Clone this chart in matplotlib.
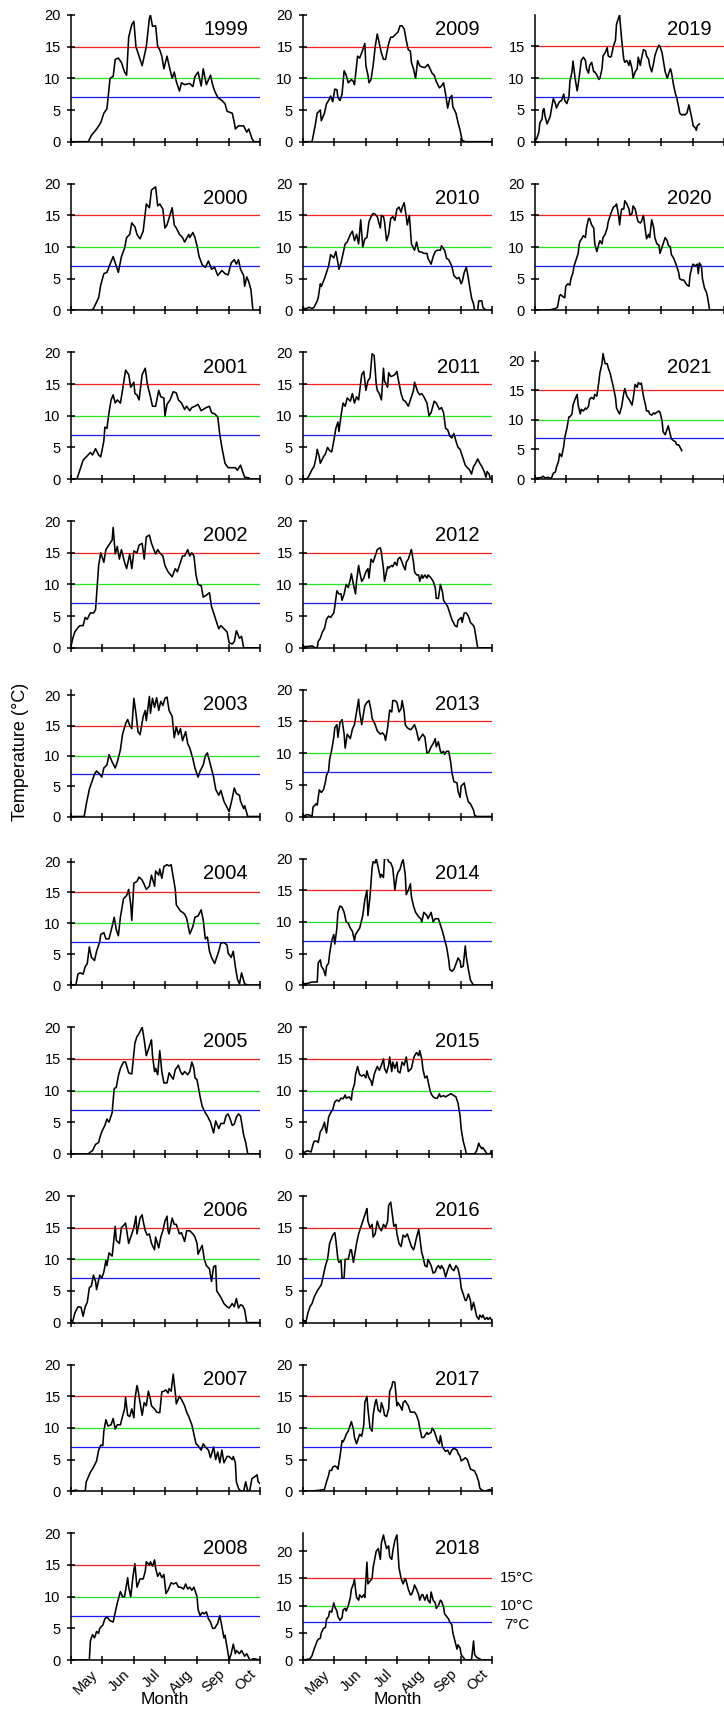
import numpy as np
import matplotlib
matplotlib.use("Agg")
import matplotlib.pyplot as plt
from matplotlib.transforms import ScaledTranslation

plt.rcParams['font.family'] = ['Liberation Sans', 'DejaVu Sans']

# Daily water temperature (day since 1 April, degrees C).
y1999 = [(0,0),(17,0),(20,1),(25,2),(29,3),(32,4.5),(35,5.2),(38,10),(41,10.3),(43,13),(46,13.2),(49,12.5),(52,11),(54,10.5),(56,16.5),(59,18.5),(61,19),(63,15),(65,14),(69,12),(71,13.5),(73,15),(76,19.5),(77,20),(79,18.2),(82,18.3),(84,15),(86,14.5),(88,13.5),(90,11.5),(93,13.5),(95,12),(98,10),(100,11),(102,9.5),(105,8),(107,9.3),(110,9),(115,9.2),(118,8.7),(120,10.3),(123,11),(126,8.8),(128,11.5),(131,9),(135,10.5),(137,9),(139,8),(142,7),(146,6.5),(149,6),(151,4.8),(156,4.5),(158,3),(159,2),(162,2.5),(167,2.5),(170,1.5),(172,2),(175,0.5),(177,0),(183,0)]
y2000 = [(0,0),(20,0),(22,0.3),(27,2),(29,4),(32,5.8),(35,6),(38,7.3),(41,8.5),(44,7),(46,6),(49,8.5),(52,9.8),(54,11.5),(57,12),(59,13.8),(62,13.2),(64,12),(67,11.3),(70,12.5),(73,16.8),(76,16.2),(78,19),(82,19.5),(84,16.5),(86,16.8),(89,16),(91,13),(93,13.5),(98,16.2),(100,13.5),(102,13),(105,12),(108,11.5),(110,10.8),(114,12),(115,11.5),(118,12.3),(120,11.5),(122,10.2),(124,8.5),(127,7.2),(130,6.8),(133,7.8),(136,6.5),(139,6.8),(142,5.5),(146,6.3),(149,5.8),(152,5.6),(155,7.5),(158,8),(160,7.3),(162,8),(164,6.5),(167,5.5),(168,3.8),(170,5.3),(172,4.5),(174,3.3),(176,0),(183,0)]
y2001 = [(0,0),(6,0),(9,1.5),(12,3),(15,3.5),(19,4.2),(21,3.8),(24,4.8),(27,3.8),(29,3.5),(32,6),(33,8.2),(35,8),(37,10.5),(39,12.5),(41,13.3),(43,12),(45,12.5),(48,12),(50,14),(53,17.2),(56,16.5),(58,14.5),(61,15.3),(62,13.5),(64,13.3),(66,12.5),(69,16.5),(72,17.5),(74,15),(77,13),(79,11.5),(82,11.5),(85,14),(87,13),(90,12.8),(91,10),(93,11.8),(96,12.5),(99,13.8),(102,13.6),(104,12.5),(107,12),(110,11),(112,11.5),(115,10.8),(117,11.3),(120,11.5),(123,11.8),(126,10.8),(128,11),(131,11.3),(134,11.5),(136,10.5),(139,10.3),(142,9.8),(144,7),(146,5),(149,2.5),(152,1.8),(156,1.8),(159,1.8),(161,1.4),(164,2.2),(166,1.2),(168,0.3),(172,0.2),(173,0),(183,0)]
y2002 = [(0,0),(2,1.5),(4,2.5),(7,3.2),(9,3.5),(12,3.5),(14,4.8),(16,4.5),(19,5.5),(22,5.5),(24,6),(27,13),(29,15),(32,13.5),(34,15.5),(36,16),(40,17),(41,19),(43,14.8),(45,16),(47,14),(49,15.5),(52,13.5),(54,12.5),(57,14.8),(59,12.5),(61,15.3),(64,15),(66,16.2),(69,16.5),(71,14),(73,17.5),(76,17.8),(78,16.5),(82,14.8),(84,15.5),(86,15),(89,14.5),(91,13),(94,12),(98,11.2),(101,12.5),(103,12),(106,13.5),(108,14.5),(110,14.5),(113,15.5),(115,14.5),(117,15),(119,14.5),(121,11.5),(123,10),(126,9.8),(128,8),(131,8.3),(134,8.7),(136,6.5),(139,5),(143,3),(145,3.5),(148,3),(151,2.5),(153,0.8),(156,0.6),(158,1),(160,2.7),(163,1.5),(165,1.8),(167,0),(183,0)]
y2003 = [(0,0),(13,0),(15,2),(18,4.5),(20,5.5),(23,7),(25,7.5),(28,7),(30,6.5),(32,8),(35,8.5),(37,10.2),(40,9),(43,8),(45,9),(48,11),(50,13.5),(53,15.3),(55,16),(57,15),(59,14.5),(61,19.5),(63,17),(65,14),(67,13.5),(70,16.5),(72,17.5),(73,15.8),(76,19.8),(77,17),(79,19.5),(81,18),(83,19.6),(85,17.5),(87,19),(89,18.3),(91,19.5),(93,19.7),(95,17.5),(98,16.5),(100,13),(102,14.8),(104,13.5),(106,14.5),(108,12.5),(111,14),(113,12),(115,11.3),(118,9.5),(120,8),(123,6.5),(125,7.5),(128,8.5),(130,10),(132,10.5),(135,8.5),(138,6.5),(140,4.5),(143,3.5),(145,4.3),(148,2.5),(151,1.5),(153,0.8),(156,3),(158,4.7),(160,3.8),(163,3.5),(164,2.5),(167,1.3),(168,1.8),(171,0),(183,0)]
y2004 = [(0,0),(5,0),(7,1.8),(9,2),(12,1.8),(14,3),(16,3.5),(18,6.2),(20,4.5),(23,4),(25,5.5),(28,7),(29,8.2),(32,8.5),(34,7.5),(37,7.5),(40,9.5),(42,11),(44,9),(46,8),(48,11),(51,14),(54,14.5),(56,15.5),(58,13),(59,10.5),(61,16.5),(64,16.8),(66,17.5),(69,17),(71,16.3),(73,15.5),(76,16),(78,17.8),(81,16),(82,18.5),(85,17.8),(86,18.8),(88,17.3),(90,19.2),(93,19.5),(95,19.3),(97,19.5),(99,17.5),(101,15.5),(102,13),(106,12),(108,11.8),(110,11.5),(112,10.8),(115,8.3),(118,9.5),(120,11),(123,11.2),(126,12.2),(128,10.5),(130,7.5),(132,7.8),(134,5.5),(136,4.5),(139,3.5),(143,5.5),(145,6.8),(148,6.9),(151,6.5),(152,5.2),(155,4.5),(157,5.5),(159,3),(161,1),(163,0.2),(165,2),(168,0.2),(172,0),(183,0)]
y2005 = [(0,0),(17,0),(19,0.3),(21,0.5),(24,1.5),(27,1.8),(28,2.5),(30,3.5),(33,4.5),(35,5.5),(37,5),(40,6.5),(42,10.3),(44,10.5),(46,12.3),(48,13.5),(51,14.5),(53,14.5),(56,12.8),(59,12.6),(62,17.5),(64,18.5),(66,19),(69,20),(71,18),(73,15.5),(75,16.5),(77,17.5),(78,18),(79,15.5),(81,13),(82,13.5),(84,12.5),(86,16.3),(88,13),(90,11.2),(93,11.2),(95,12.8),(98,12),(99,11.8),(101,13.3),(104,14),(106,13),(108,12.5),(110,13),(113,12.5),(115,13),(117,14.5),(119,13.5),(120,12),(122,11.7),(125,9),(127,7.5),(130,6.5),(132,6),(135,5),(138,3.3),(140,5.2),(143,4),(145,4.8),(148,4.8),(150,6),(152,6.3),(154,5.5),(156,4.5),(158,4.7),(160,5.8),(162,6.3),(164,6),(167,3),(169,1.8),(171,0),(183,0)]
y2006 = [(0,0),(2,0.2),(4,1.5),(7,2.5),(10,2.4),(12,1),(14,2.5),(16,3.2),(18,5.5),(20,5.8),(22,7.5),(24,6.5),(25,5.2),(28,7.5),(30,7),(32,8),(34,9.8),(35,9),(37,11),(40,10.5),(41,12),(43,15.2),(44,13),(47,12.5),(49,15),(52,15.5),(53,15.7),(56,12.5),(58,13.5),(61,15),(63,16.8),(64,14),(67,16.5),(69,17),(70,16),(72,14.5),(74,13.8),(76,14),(78,12.5),(81,11.5),(82,13.5),(85,11.8),(87,13.5),(89,14.5),(91,16),(93,16.8),(94,14.5),(95,14),(98,16.5),(100,15.5),(102,15.5),(105,14),(107,14.2),(110,12.8),(112,14.5),(115,14.5),(118,14),(120,13.5),(122,12.5),(123,10.8),(125,11.5),(127,12.2),(129,10),(131,9),(134,8.5),(136,6.5),(138,8.8),(140,9),(141,5),(143,4.5),(145,4),(148,3),(151,2.5),(153,2.3),(156,3),(158,2.5),(160,3.8),(162,2.3),(164,2.8),(166,2.7),(168,2),(170,0),(183,0)]
y2007 = [(0,0),(5,0.2),(8,0),(14,0),(15,1.5),(19,3),(22,3.8),(25,4.8),(27,6.5),(29,7.3),(31,7.2),(32,9.5),(34,11.3),(36,10.3),(39,10.5),(41,11.5),(43,9.8),(45,10.5),(48,10.5),(50,11.8),(52,13),(53,14.8),(55,12),(57,11.8),(59,13),(61,11.6),(62,14.5),(64,16.7),(65,16),(67,14),(69,12),(71,14),(73,13.5),(75,15.8),(77,14.5),(78,13.5),(81,13),(83,12.5),(86,12.4),(88,15.7),(90,15.8),(92,16),(94,15.5),(95,16.2),(97,15.8),(99,18.5),(101,15.5),(102,13.8),(105,15),(107,14.5),(110,13.5),(112,12.5),(114,11.8),(117,10.5),(119,9),(121,7.5),(123,7.2),(126,6.5),(128,7.5),(130,7),(133,6.5),(135,5.3),(138,7),(140,5),(142,6.2),(144,4.5),(146,6.5),(148,4.5),(151,5.5),(153,5.5),(156,5),(157,5.5),(159,4.5),(160,1.5),(162,0.5),(164,0),(167,0),(169,1.5),(171,0),(173,0.2),(175,2),(177,2.2),(180,2.6),(181,1.5),(183,1.2)]
y2008 = [(0,0),(18,0),(19,3),(21,4),(23,3.5),(25,4.5),(27,4.2),(28,5),(31,5.5),(33,6.5),(35,6.8),(38,6.2),(41,6),(43,7.5),(45,9),(48,10.8),(50,10),(52,10),(55,13),(56,11.5),(58,10),(60,13),(62,15.2),(64,11.5),(67,12.8),(70,12.8),(72,14),(73,15.5),(76,15),(77,15.5),(79,14.8),(81,15.8),(82,14.5),(84,13.2),(86,13.8),(88,13),(90,13.5),(92,10.5),(94,11),(97,12.2),(99,12),(102,12.2),(104,11.5),(106,11.5),(109,11.2),(111,12),(113,11.2),(115,11.5),(117,11),(119,11.5),(122,10),(123,8),(125,7),(127,7.5),(129,7.3),(131,7.6),(133,6.5),(135,6),(137,5),(139,5),(142,5.8),(144,7),(146,5.3),(148,3.5),(149,3.9),(151,2),(153,0),(155,1),(157,2.5),(159,1),(160,1.5),(163,1),(165,1.5),(168,0.6),(170,1),(173,0),(177,0.2),(183,0)]
y2009 = [(0,0),(9,0),(12,2.5),(14,4.5),(17,5),(18,3.3),(21,4.5),(23,6),(25,6.5),(27,7.2),(29,6.3),(31,8.3),(33,8.2),(34,7),(36,6.5),(38,7.5),(40,11.2),(42,10.5),(44,9.3),(47,9.8),(49,9.5),(50,9),(53,13.5),(55,13.2),(58,14.5),(60,15.5),(61,12),(63,10.5),(64,9.3),(66,9.8),(68,12),(70,15),(72,17),(74,15.5),(76,14),(78,13),(80,13),(83,15.5),(85,16.5),(87,16.5),(90,17),(92,17.3),(94,18.3),(96,18.3),(98,17.8),(100,16),(102,14.5),(104,14.3),(105,12.5),(107,11.5),(109,10),(111,12.8),(113,12),(115,11.8),(118,11.7),(121,12.2),(123,11.5),(125,10.8),(127,10.5),(129,9.5),(132,8.5),(134,8.8),(136,9.3),(138,7.5),(140,5.3),(142,6.8),(144,7.3),(145,5.5),(148,4.5),(150,3),(152,1.8),(154,0.2),(157,0),(183,0)]
y2010 = [(0,0.3),(4,0.3),(6,0.5),(9,0.3),(11,0.5),(14,1.5),(15,2),(17,4.2),(18,3.8),(21,5),(23,6),(25,7),(27,8.8),(30,8.3),(32,9.3),(34,7.5),(35,6.5),(37,7.5),(39,9),(41,10.5),(43,10.8),(46,12),(48,12.5),(50,11),(52,12),(54,10.5),(56,14.3),(58,10),(60,11.3),(62,11.5),(64,14),(66,14.8),(68,15.3),(70,15.2),(72,14.8),(75,13),(76,15),(78,14.8),(79,14),(81,11),(83,12),(85,14.5),(87,14.8),(89,14.2),(91,16),(93,16.3),(95,15.5),(96,16.2),(98,17),(100,14.8),(101,13.5),(103,15),(105,10.5),(108,9.5),(110,10.8),(112,9.3),(115,9.2),(117,9),(120,9),(121,8.2),(124,7.3),(126,8.5),(128,9.3),(130,9.5),(133,9.5),(134,10.2),(137,9.5),(139,8.2),(141,8),(144,7),(146,5.5),(149,5),(151,5.2),(153,4.2),(154,4.5),(156,6),(158,6.8),(159,6),(161,4),(163,2),(165,1),(166,0),(169,0),(170,1.5),(173,1.5),(174,0.5),(177,0),(183,0)]
y2011 = [(0,0),(4,0),(6,0.5),(9,1.5),(11,2),(13,3.5),(14,4.7),(16,3.5),(17,2.5),(20,3.5),(22,4),(24,5),(26,4.5),(28,4.3),(30,6),(32,8),(34,9),(35,7.5),(37,10),(39,12),(41,11.5),(43,12.8),(46,12.3),(48,13.5),(50,12),(52,13),(54,12.5),(57,16.5),(59,17),(61,14),(63,15.5),(65,16),(67,19.8),(69,19.5),(71,15),(72,14),(74,13.5),(76,12.5),(78,17.5),(79,15.5),(82,14.5),(83,16.8),(85,16.2),(87,16.3),(89,16.5),(91,17),(92,16),(95,13.5),(97,12.5),(99,12.3),(102,11.5),(104,12.5),(107,14),(108,15.3),(111,13.8),(113,13.3),(115,13.5),(117,13),(120,12),(122,10),(124,10.5),(127,12.3),(129,12),(132,11),(134,11.3),(136,10.5),(138,8),(140,7.8),(142,6.8),(144,6.5),(146,7.2),(148,6),(150,5),(152,4.7),(155,3.2),(157,2.2),(159,1.8),(161,1.5),(163,0.8),(165,2),(167,2.5),(169,3.2),(171,2.5),(173,2),(175,1.3),(177,0.3),(178,1.2),(180,0.8),(181,0.2),(183,0)]
y2012 = [(0,0.2),(5,0.2),(9,0.3),(12,0),(14,0),(15,1),(17,1.5),(19,2.5),(21,3),(23,4.5),(25,5),(27,4.8),(30,5.5),(31,6.5),(33,9),(35,8.5),(37,8.5),(38,7.5),(40,8.5),(42,10),(44,9.5),(46,10.8),(47,11.7),(49,10),(51,8.5),(52,10.5),(54,13),(55,12),(57,10.5),(59,11),(61,12),(63,12.5),(64,11),(66,14),(68,13.5),(70,14.5),(72,15.5),(75,15.8),(76,15),(78,12.5),(79,10.5),(82,12.8),(83,12.6),(86,13),(87,12.8),(89,13.5),(91,13),(92,14),(94,14.3),(96,13.5),(97,13),(99,12.3),(100,13.5),(102,14),(104,15),(105,15.5),(107,13.5),(108,12),(110,11.5),(112,11.5),(113,10.5),(115,11.5),(116,11),(118,11.5),(120,11),(121,11.5),(123,11.2),(124,11),(126,10.5),(128,9.5),(129,7.8),(131,7.8),(133,10),(135,8.8),(136,7.5),(138,7),(140,6.5),(142,5.5),(144,4.5),(147,3.5),(149,3.3),(150,4.3),(153,4.8),(154,4),(156,5.5),(158,5.5),(160,5),(162,4),(165,3.5),(166,3),(168,1),(169,0),(183,0)]
y2013 = [(0,0),(4,0.3),(7,0.2),(9,0),(10,1.5),(13,2),(14,1.8),(16,4.2),(18,3.8),(20,4.2),(22,5.5),(23,6.5),(25,7.2),(26,9),(28,10.5),(30,12.5),(31,14),(33,14.5),(34,12.5),(36,14.8),(38,15.3),(40,13),(41,10.8),(43,13),(46,12.3),(48,13.8),(50,14.5),(52,16.5),(54,18.5),(55,16.5),(57,14.5),(59,16.5),(60,17.5),(62,18),(64,18.3),(66,16.8),(67,15.5),(70,14.5),(72,13.5),(75,13),(77,13.2),(79,12.8),(80,12),(82,14),(84,16.8),(86,16.5),(87,18.3),(89,18.3),(91,18),(93,16.5),(95,17),(96,18.3),(98,16.5),(99,14.5),(101,14),(104,13.7),(105,13.8),(108,14.5),(110,13.5),(112,12),(114,12.5),(116,13),(118,12.5),(120,10),(122,10.2),(124,11),(126,11.5),(128,12.3),(129,11),(131,11.8),(133,10.3),(134,10),(136,10.3),(137,9.8),(139,10.3),(141,10.3),(143,8.5),(144,7),(146,5.5),(149,5.3),(150,4),(152,3),(153,4.8),(156,5.3),(158,3.5),(160,2.3),(162,2),(165,1),(166,0.2),(168,0),(183,0)]
y2014 = [(0,0.2),(5,0.3),(9,0.5),(14,0.5),(15,3.5),(17,4),(18,3),(20,2.5),(22,1.5),(23,3),(25,3.5),(26,5),(28,7),(30,8),(31,6.5),(33,9),(34,11.5),(36,12.5),(38,12.3),(40,11.5),(42,10),(44,9.8),(46,9),(48,8.5),(50,7),(51,8),(53,8.5),(55,9),(58,11),(60,13.5),(62,15),(63,11),(65,14),(67,18.5),(68,19.5),(70,19.3),(71,20),(73,18.5),(75,17),(76,17.5),(78,17),(79,20),(82,20),(83,19.5),(85,19.3),(87,18.5),(89,15),(91,17.3),(92,17.8),(94,18.3),(96,19.5),(97,19.8),(99,17.5),(100,14.3),(102,15),(104,16),(105,14),(107,12.5),(109,11.5),(112,10.8),(114,10.5),(115,10),(117,11.5),(120,11),(121,10.5),(124,11.5),(126,10),(128,10.5),(131,10.5),(133,9.5),(135,8.5),(137,7.2),(139,6),(141,4),(142,2.5),(144,2.2),(146,2.5),(149,3.8),(150,4.3),(152,3.8),(153,2.8),(155,3),(157,6.2),(158,4.5),(160,2.5),(162,0.8),(165,0),(183,0)]
y2015 = [(0,0),(2,0.3),(5,0.5),(8,0.3),(10,1.5),(11,2),(14,2),(15,1.8),(17,3.5),(19,4),(21,5),(22,4),(23,3.3),(25,5.8),(27,6.5),(29,7),(31,8.2),(33,8.5),(35,8.3),(37,8.8),(39,8.7),(41,9.3),(42,8.8),(45,9),(47,8.5),(48,10),(50,11),(51,12.5),(53,13.8),(55,12.5),(57,12.3),(59,12.5),(61,12),(62,13.1),(64,12),(66,11.5),(67,10.8),(69,12.5),(70,13),(72,13.8),(74,13.2),(76,14),(78,15),(79,13.5),(81,12.8),(83,14),(84,15.3),(86,13),(87,14.5),(89,13.5),(91,14.5),(92,13),(94,12.8),(96,14.5),(98,14),(100,15.3),(102,13),(105,13.5),(107,15),(108,15.5),(110,16),(112,15.5),(113,16.3),(115,15),(116,13.5),(118,12),(120,12.3),(121,11.5),(123,10),(124,9.5),(126,9),(128,8.8),(130,8.8),(132,9.5),(133,9),(136,9.2),(138,9),(141,9.3),(143,9.5),(145,9.3),(148,9),(150,8),(152,6),(153,4),(155,2),(157,0.8),(158,0),(166,0),(168,0.5),(170,1.7),(171,1.3),(173,0.8),(174,1),(176,0.5),(178,0),(181,0),(182,0.5),(183,0)]
y2016 = [(0,0),(2,0.3),(3,0),(5,1.5),(7,2.5),(9,3),(11,4),(14,5),(16,5.5),(18,6),(20,7.5),(22,9),(24,10),(26,12.5),(29,13.8),(31,14.2),(32,13),(34,10),(35,9.5),(37,9.8),(38,7),(40,7),(41,10),(44,10),(46,11.5),(47,11.5),(49,9.5),(50,10.5),(52,12.5),(54,14),(56,15),(59,16.5),(61,17.5),(62,18),(63,16),(65,15),(67,15.5),(68,13.5),(70,14),(72,16),(74,15),(76,14.5),(78,15.5),(80,15),(82,16),(83,18.5),(85,19),(87,16.5),(88,15.2),(90,15.5),(91,14),(93,12.5),(95,12),(97,13.8),(99,13.5),(101,14),(103,13),(105,12),(107,11.5),(108,12),(110,13.5),(112,14.7),(113,13.5),(115,11),(116,10.5),(118,9),(120,8.8),(121,10),(124,9),(126,7.8),(128,8),(129,8.5),(131,9),(133,8.5),(134,9),(136,8.5),(138,7.2),(140,8.3),(142,9.2),(144,8.5),(146,8.2),(148,9),(150,8.5),(152,7),(153,5.5),(155,4.5),(157,3.5),(158,3.5),(160,4.5),(162,3.5),(163,2),(165,3.2),(166,2.5),(168,1),(170,0.5),(171,1.2),(173,0.8),(174,1.2),(176,0.5),(178,0.8),(179,0.5),(181,0.8),(183,0.2)]
y2017 = [(0,0),(12,0.1),(18,0.2),(21,0.3),(23,1.5),(25,2.5),(26,3.3),(28,3.3),(29,3.8),(31,4),(33,3.8),(34,3.5),(36,5.5),(38,8),(39,7.8),(41,8.5),(42,9),(44,9.5),(46,10.5),(47,11),(49,9.8),(50,8.5),(52,7.5),(54,8.5),(55,9),(57,8.7),(59,10.5),(60,14),(62,15),(63,13),(65,10),(67,9.5),(68,12),(70,14),(71,14.5),(73,12.8),(75,12.5),(76,14),(78,13),(79,12),(81,11.8),(83,13),(84,15.8),(86,16.5),(87,17.3),(89,17.2),(91,13.5),(92,14),(94,13.5),(96,12.8),(97,14),(99,14.3),(100,14),(102,13.5),(104,12.5),(105,12.5),(108,12.5),(110,12),(112,11),(113,10),(115,8.5),(117,8.5),(120,9.3),(121,9),(124,9.3),(125,10),(127,9.5),(128,9),(130,8),(132,7.5),(133,8.8),(135,7),(137,6.5),(138,6.3),(140,6.5),(142,5.8),(144,6.5),(146,6.8),(149,6.5),(150,6),(152,5.5),(153,4.8),(155,5),(157,5.3),(159,5),(160,4.5),(162,3.5),(165,3.3),(166,3.2),(168,2.5),(170,1.5),(171,0.5),(173,0.2),(176,0),(179,0.2),(181,0.3),(183,0)]
y2018 = [(0,0),(7,0.2),(9,0.8),(11,2),(14,3.5),(15,3.8),(17,4),(18,5),(20,5.8),(22,6),(23,7.5),(25,8),(26,9),(28,8.8),(30,10.5),(31,9.8),(33,9),(34,8),(36,7.3),(38,7.8),(39,9.2),(41,9.5),(42,9),(44,10),(46,11.5),(47,13),(49,14),(50,14.8),(51,13),(52,11.5),(54,11),(55,12),(57,11.5),(59,12),(60,11.5),(62,18),(63,14),(65,14.5),(67,15),(68,17),(70,19),(71,20),(73,20.5),(75,18.5),(76,21.5),(78,23),(79,22),(81,20.5),(83,21),(84,19),(86,18.5),(87,20),(89,22),(91,23),(92,20),(93,17),(95,15),(97,14),(99,15),(100,14.5),(102,13),(104,12),(105,12),(107,13),(108,13.8),(110,13),(112,12),(113,11),(115,12),(116,12),(118,11),(120,12),(121,11),(123,10.5),(124,12.5),(126,11),(128,10.5),(129,9.5),(131,10),(133,11),(134,10.8),(136,9.8),(137,8.5),(139,8),(141,7.5),(142,7),(144,6.5),(145,5),(147,3.5),(149,2),(150,2.8),(152,2.2),(153,1),(155,0.5),(157,0),(163,0),(165,3.5),(166,1),(168,0.5),(170,0.3),(173,0),(183,0)]
y2019 = [(0,0),(2,0.5),(4,1.5),(5,3),(7,3.5),(8,5),(9,5.2),(10,4),(12,2.8),(13,3.2),(15,4),(16,5),(18,6.8),(20,6),(21,5.3),(23,6),(24,6.3),(26,6.5),(28,7.5),(29,6.5),(31,6),(33,7),(34,9.5),(36,11),(37,12.7),(39,10),(41,8),(42,9),(44,11.5),(45,12.8),(47,13.3),(49,12.8),(50,11.5),(52,10.8),(53,12),(55,12.5),(57,11),(58,11),(60,10.5),(62,9.8),(63,10),(65,11.5),(66,13.5),(68,14),(70,14.8),(71,13.5),(73,13.3),(74,13.5),(76,15),(78,16),(79,18.5),(81,19.5),(82,19.9),(84,16),(86,13),(87,12.5),(89,12.8),(91,12),(92,12.8),(94,11.5),(95,10),(97,11),(99,11.5),(100,13.3),(102,12),(103,13),(105,14.5),(107,14.3),(108,13.5),(110,13),(111,12),(113,11),(115,12.5),(116,13.5),(118,14.5),(120,15.2),(121,15),(123,14),(124,13),(126,11),(128,10),(129,10.5),(131,11.5),(132,11),(134,9),(136,7.5),(137,7),(139,5.5),(140,4.5),(142,4.2),(144,4.3),(145,4.2),(147,4.5),(149,5.8),(150,5),(152,3.5),(153,2.5),(155,2.2),(156,1.8),(157,2.5),(159,2.8)]
y2020 = [(0,0),(15,0.1),(20,0.3),(22,0.5),(24,2.3),(25,2.5),(27,2.2),(29,2),(30,3.8),(32,4.2),(34,4),(35,5),(37,6),(38,7),(40,8),(42,9),(43,10.5),(44,11),(45,11.2),(47,11.8),(49,11.5),(50,13),(52,14.5),(53,14.5),(55,13.5),(57,13),(58,10.5),(60,9.3),(62,10.5),(63,11),(65,10.5),(66,11.5),(68,12),(70,13),(71,14),(73,15),(74,15.5),(76,16.3),(78,16.5),(79,16.8),(81,15),(82,13.5),(83,15),(84,16),(86,16),(87,17.3),(89,16.8),(91,16),(92,15),(94,15.3),(95,16.5),(97,16),(99,14.5),(100,14),(102,13.8),(103,14),(105,15),(107,12.5),(108,11.3),(110,12),(111,11.5),(113,14.3),(115,13),(116,11.5),(118,10.5),(120,10.3),(121,9),(123,10),(124,10.5),(126,11.5),(128,11),(129,10.3),(131,10),(132,8.8),(134,8.3),(136,7.5),(137,7),(139,6),(140,5),(142,4.8),(144,4.8),(145,4.5),(147,4),(149,3.8),(150,5.5),(152,7),(153,7.3),(155,7),(157,7.3),(158,5.8),(159,7.5),(161,7),(162,5),(164,3.5),(166,2.8),(167,2),(169,0),(183,0)]
y2021 = [(0,0.2),(4,0.2),(7,0.3),(8,0.5),(10,0.2),(13,0.3),(16,0.1),(18,1),(20,1.2),(21,2),(23,3),(24,4.3),(26,3.8),(28,5.5),(29,7),(31,8.5),(33,10.5),(34,10.5),(36,11),(37,12.5),(39,13.5),(41,14.3),(42,12.5),(44,11),(45,11.8),(47,11.5),(49,12),(50,11.8),(52,12.3),(53,13.5),(55,13.8),(57,13.5),(58,14.3),(60,14),(62,16.5),(63,18),(65,19.5),(66,21.2),(68,19.5),(70,19.5),(71,18.8),(73,17.8),(74,17),(76,15.5),(78,13.8),(79,12),(81,11.3),(82,11),(84,12.3),(86,14.5),(87,15.3),(89,14),(91,13.5),(92,13.2),(94,12.5),(95,13.5),(97,16),(99,15.5),(100,16.3),(102,16),(103,16.2),(105,14),(107,12.5),(108,11.5),(110,11.5),(111,11),(113,10.8),(115,11.2),(116,11),(118,11.3),(120,11.5),(121,11.3),(123,9.8),(124,8),(126,7.5),(128,8.5),(129,9),(131,7.5),(132,6.8),(134,6.5),(136,6.3),(137,5.8),(139,5.8),(140,5.5),(142,4.8)]

series = {1999: y1999, 2000: y2000, 2001: y2001, 2002: y2002, 2003: y2003,
          2004: y2004, 2005: y2005, 2006: y2006, 2007: y2007, 2008: y2008,
          2009: y2009, 2010: y2010, 2011: y2011, 2012: y2012, 2013: y2013,
          2014: y2014, 2015: y2015, 2016: y2016, 2017: y2017, 2018: y2018,
          2019: y2019, 2020: y2020, 2021: y2021}

month_ticks = [0, 30, 61, 91, 122, 153, 183]
month_labels = ['', 'May', 'Jun', 'Jul', 'Aug', 'Sep', 'Oct']
thresholds = [15, 10, 7]
threshold_labels = ['15°C', '10°C', '7°C']

# styling / layout
threshold_colors = ['#ff1a1a', '#22e622', '#1a1aff']
y_top = {2003: 20.9, 2004: 20.5, 2018: 23.3, 2019: 19.95, 2021: 21.4}

W, H = 724, 1713
fig = plt.figure(figsize=(W / 100, H / 100), dpi=100)

col_left = [70.7, 302.7, 534.7]
ax_w, ax_h = 189.5, 126.7
row_step = 168.7
first_zero = 141.7
shift_left = ScaledTranslation(-4.5 / 72, 0, fig.dpi_scale_trans)

for year, pts in series.items():
    idx = year - 1999
    col, row = idx // 10, idx % 10
    bottom_px = first_zero + row_step * row
    ax = fig.add_axes([col_left[col] / W, 1 - bottom_px / H, ax_w / W, ax_h / H])

    days, temps = np.array(pts, dtype=float).T
    for th, c in zip(thresholds, threshold_colors):
        ax.axhline(th, color=c, lw=0.9, zorder=1)
    ax.plot(days, temps, color='black', lw=1.15, zorder=3)

    top = y_top.get(year, 20)
    ax.set_xlim(0, 183)
    ax.set_ylim(0, top)
    ax.set_yticks([v for v in range(0, 25, 5) if v <= top])
    ax.set_xticks(month_ticks)

    for s in ['top', 'right']:
        ax.spines[s].set_visible(False)
    for s in ['left', 'bottom']:
        ax.spines[s].set_linewidth(1.1)
    ax.tick_params(axis='both', direction='inout', length=5.5, width=1.1,
                   labelsize=10.5)
    ax.tick_params(axis='y', pad=4.5)
    ax.tick_params(axis='x', pad=6)

    if row == 9:
        ax.set_xticklabels(month_labels, rotation=45, ha='right', va='center',
                           rotation_mode='anchor', fontsize=10.5)
        for lab in ax.get_xticklabels():
            lab.set_transform(lab.get_transform() + shift_left)
    else:
        ax.set_xticklabels([])

    ax.text(0.935, 0.84, str(year), transform=ax.transAxes,
            ha='right', va='baseline', fontsize=14.5)

    if year == 2018:
        tr = ax.get_yaxis_transform()
        for th, lab in zip([15, 10, 6.4], threshold_labels):
            ax.text(1.13, th, lab, transform=tr, ha='center', va='center',
                    fontsize=11)

fig.text(20.7 / W, 1 - 752 / H, 'Temperature (°C)', rotation=90,
         ha='center', va='center', fontsize=13)
fig.text(165 / W, 1 - 1699 / H, 'Month', ha='center', va='center', fontsize=12.5)
fig.text(397.5 / W, 1 - 1699 / H, 'Month', ha='center', va='center', fontsize=12.5)

fig.savefig('out.png', dpi=100)
